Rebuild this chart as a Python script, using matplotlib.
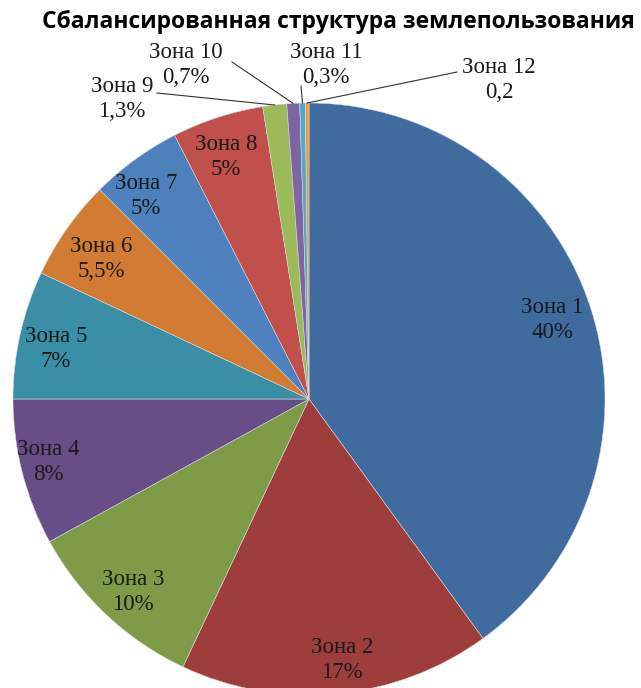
import numpy as np
import matplotlib
matplotlib.use('Agg')
import matplotlib.pyplot as plt

zones = ['Зона 1', 'Зона 2', 'Зона 3', 'Зона 4', 'Зона 5', 'Зона 6',
         'Зона 7', 'Зона 8', 'Зона 9', 'Зона 10', 'Зона 11', 'Зона 12']
shares = [40, 17, 10, 8, 7, 5.5, 5, 5, 1.3, 0.7, 0.3, 0.2]
share_labels = ['40%', '17%', '10%', '8%', '7%', '5,5%', '5%', '5%',
                '1,3%', '0,7%', '0,3%', '0,2']
colors = ['#3F6B9F', '#9E3E3C', '#7E9B47', '#674E87', '#3A8FA6', '#D17C32',
          '#4E80BD', '#C1504D', '#9BBB59', '#8064A2', '#4BACC6', '#F79646']

# label centres in pixels (x, y from top) and leader-line start for small zones
label_px = [(552, 320), (342, 660), (133, 592), (48, 462), (56, 349), (101, 259),
            (146, 196), (226, 157), (122, 99), (186, 65), (326, 65), (499, 80)]
leader_px = {8: (157, 93), 9: (232, 62), 10: (301, 86), 11: (457, 72)}

W, H = 641, 688
cx, cy, R = 309, 399, 296

fig = plt.figure(figsize=(W / 100, H / 100), dpi=100)
ax = fig.add_axes([0, 0, 1, 1])

def to_data(px, py):
    return (px - cx) / R, (cy - py) / R

wedges, _ = ax.pie(shares, colors=colors, startangle=90, counterclock=False,
                   radius=1.0, wedgeprops=dict(edgecolor='#d8d8d8', linewidth=0.4))

for i, w in enumerate(wedges):
    x, y = to_data(*label_px[i])
    ax.text(x, y, zones[i] + '\n' + share_labels[i], ha='center', va='center',
            fontsize=16.5, family='Liberation Serif', color='#1a1a1a', linespacing=1.25)
    if i in leader_px:
        ang = np.deg2rad((w.theta1 + w.theta2) / 2)
        ex, ey = np.cos(ang), np.sin(ang)
        sx, sy = to_data(*leader_px[i])
        ax.plot([sx, ex], [sy, ey], color='#333333', lw=0.8)

ax.set_xlim(-cx / R, (W - cx) / R)
ax.set_ylim(-(H - cy) / R, cy / R)
ax.set_aspect('equal')
ax.axis('off')

fig.text(338 / W, 1 - 22 / H, 'Сбалансированная структура землепользования',
         ha='center', va='center', fontsize=16.5, fontweight='bold', family='Open Sans')

fig.savefig('out.png', dpi=100)
